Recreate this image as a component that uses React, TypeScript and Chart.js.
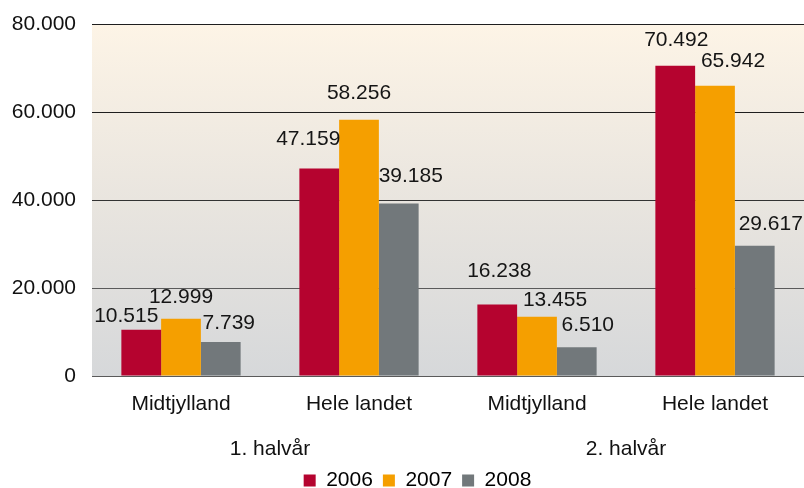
import React, { useEffect, useRef } from "react";
import { Chart, registerables } from "chart.js";

Chart.register(...registerables);

const categories = ["Midtjylland", "Hele landet", "Midtjylland", "Hele landet"];
const groupLabels = ["1. halvår", "2. halvår"];
const seriesNames = ["2006", "2007", "2008"];
const values2006 = [10515, 47159, 16238, 70492];
const values2007 = [12999, 58256, 13455, 65942];
const values2008 = [7739, 39185, 6510, 29617];
const yTicks = [0, 20000, 40000, 60000, 80000];

const colors = ["#B5032F", "#F59F00", "#72787B"];
const FONT = "'Liberation Sans', Arial, Helvetica, sans-serif";
const FONT_SIZE = 21;

// label nudges (px) relative to bar top centre, mimicking the original placement
const labelNudges: [number, number][][] = [
  [[-15, -14], [-11, -29], [2, -33], [1, -26]],
  [[0, -22], [0, -26], [18, -17], [18, -25]],
  [[8, -19], [12, -27], [11, -22], [16, -21]],
];

const fmt = (v: number) =>
  String(Math.round(v)).replace(/\B(?=(\d{3})+(?!\d))/g, ".");

const gridColor = (v: number) => {
  if (v >= 60000) return "#1e1e1e";
  if (v >= 40000) return "#333333";
  return "#5a5a5a";
};

const bgPlugin = {
  id: "plotBg",
  beforeDraw(chart: any) {
    const { ctx, chartArea } = chart;
    if (!chartArea) return;
    const g = ctx.createLinearGradient(0, chartArea.top, 0, chartArea.bottom);
    g.addColorStop(0, "#FDF4E6");
    g.addColorStop(0.5, "#E9E5DF");
    g.addColorStop(1, "#D6D8DA");
    ctx.save();
    ctx.fillStyle = g;
    ctx.fillRect(chartArea.left, chartArea.top, chartArea.right - chartArea.left, chartArea.bottom - chartArea.top);
    ctx.restore();
  },
};

const legendShift = {
  id: "legendShift",
  afterLayout(chart: any) {
    const lg = chart.legend;
    if (!lg) return;
    lg.left += 15.5;
    lg.right += 15.5;
    lg.top -= 6;
    lg.bottom -= 6;
  },
};

const labelPlugin = {
  id: "valueLabels",
  afterDatasetsDraw(chart: any) {
    const { ctx } = chart;
    ctx.save();
    ctx.font = `${FONT_SIZE}px ${FONT}`;
    ctx.fillStyle = "#151515";
    ctx.textAlign = "center";
    ctx.textBaseline = "middle";
    chart.data.datasets.forEach((ds: any, di: number) => {
      const meta = chart.getDatasetMeta(di);
      meta.data.forEach((el: any, i: number) => {
        const [dx, dy] = labelNudges[di][i];
        ctx.fillText(fmt(ds.data[i]), el.x + dx, el.y + dy);
      });
    });
    ctx.restore();
  },
};

export default function App() {
  const ref = useRef<HTMLCanvasElement>(null);
  useEffect(() => {
    if (!ref.current) return;
    const seriesValues = [values2006, values2007, values2008];
    const chart = new Chart(ref.current, {
      type: "bar",
      data: {
        labels: categories,
        datasets: seriesNames.map((name, i) => ({
          label: name,
          data: seriesValues[i],
          backgroundColor: colors[i],
          borderWidth: 0,
          categoryPercentage: 0.67,
          barPercentage: 1.0,
        })),
      },
      options: {
        animation: false,
        responsive: true,
        maintainAspectRatio: false,
        layout: { padding: { left: 0, right: 0, top: 24, bottom: -19 } },
        plugins: {
          tooltip: { enabled: false },
          legend: {
            position: "bottom",
            labels: {
              boxWidth: 12,
              boxHeight: 12,
              padding: 10,
              color: "#000",
              font: { family: FONT, size: FONT_SIZE },
            },
          },
        },
        scales: {
          x: {
            type: "category",
            position: "bottom",
            weight: 0,
            grid: { display: false, drawTicks: false },
            border: { display: false },
            ticks: { color: "#111", padding: 15.4, font: { family: FONT, size: FONT_SIZE } },
          },
          x2: {
            type: "category",
            position: "bottom",
            weight: 1,
            labels: groupLabels,
            grid: { display: false, drawTicks: false },
            border: { display: false },
            ticks: { color: "#111", padding: 4.4, font: { family: FONT, size: FONT_SIZE } },
          },
          y: {
            min: 0,
            max: 80000,
            afterFit(scale: any) {
              scale.width = 92;
              scale.paddingTop = 0;
              scale.paddingBottom = 0;
            },
            afterBuildTicks(scale: any) {
              scale.ticks = yTicks.map((v) => ({ value: v }));
            },
            grid: {
              drawTicks: false,
              color: (c: any) => gridColor(c.tick ? c.tick.value : 0),
              lineWidth: 1,
            },
            border: { display: false },
            ticks: {
              color: "#111",
              padding: 16,
              font: { family: FONT, size: FONT_SIZE },
              callback: (v: any) => fmt(Number(v)),
            },
          },
        },
      },
      plugins: [bgPlugin, labelPlugin, legendShift],
    });
    return () => chart.destroy();
  }, []);
  return (
    <div style={{ position: "absolute", left: 0, top: 0, width: 804, height: 488, background: "#fff" }}>
      <canvas ref={ref} />
    </div>
  );
}
